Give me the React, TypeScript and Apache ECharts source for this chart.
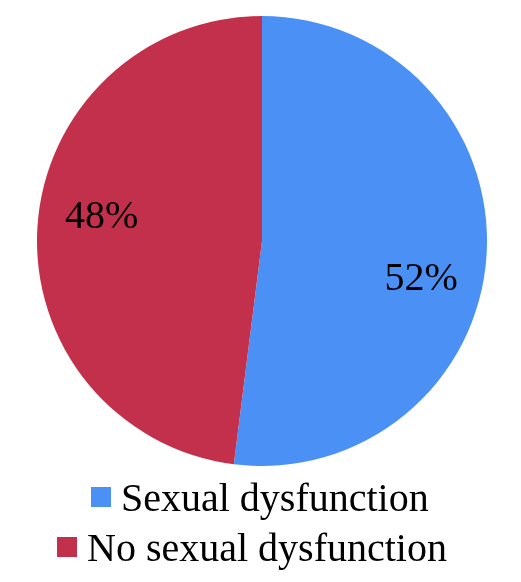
import React, { useEffect, useRef } from "react";
import * as echarts from "echarts";

const categories = ["Sexual dysfunction", "No sexual dysfunction"];
const values = [52, 48];
const colors = ["#4a90f5", "#c3304b"];
const labelOffsets = [
  [44, 28],
  [-45, -19],
];

export default function App() {
  const ref = useRef<HTMLDivElement>(null);
  useEffect(() => {
    if (!ref.current) return;
    const chart = echarts.init(ref.current, undefined, { renderer: "svg" });
    const font = "'Liberation Serif', 'Times New Roman', serif";
    const legendText = {
      fontFamily: font,
      fontSize: 40,
      color: "#000",
      lineHeight: 40,
      padding: [0, 0, 0, 5],
    };
    chart.setOption({
      animation: false,
      color: colors,
      legend: [
        {
          data: [categories[0]],
          orient: "vertical",
          left: 91,
          top: 477,
          padding: 0,
          itemWidth: 20,
          itemHeight: 20,
          icon: "rect",
          selectedMode: false,
          textStyle: legendText,
        },
        {
          data: [categories[1]],
          orient: "vertical",
          left: 57,
          top: 527,
          padding: 0,
          itemWidth: 20,
          itemHeight: 20,
          icon: "rect",
          selectedMode: false,
          textStyle: legendText,
        },
      ],
      series: [
        {
          type: "pie",
          center: [262, 241],
          radius: 225,
          startAngle: 90,
          clockwise: true,
          data: categories.map((name, i) => ({
            name,
            value: values[i],
            itemStyle: { color: colors[i] },
          })),
          label: {
            show: true,
            position: "inside",
            formatter: "{c}%",
            fontFamily: font,
            fontSize: 40,
            color: "#000",
          },
          labelLayout: (params: any) => ({
            dx: labelOffsets[params.dataIndex][0],
            dy: labelOffsets[params.dataIndex][1],
          }),
          labelLine: { show: false },
          emphasis: { disabled: true },
        },
      ],
    });
    return () => chart.dispose();
  }, []);
  return (
    <div
      ref={ref}
      style={{ position: "fixed", left: 0, top: 0, width: 521, height: 582 }}
    />
  );
}
